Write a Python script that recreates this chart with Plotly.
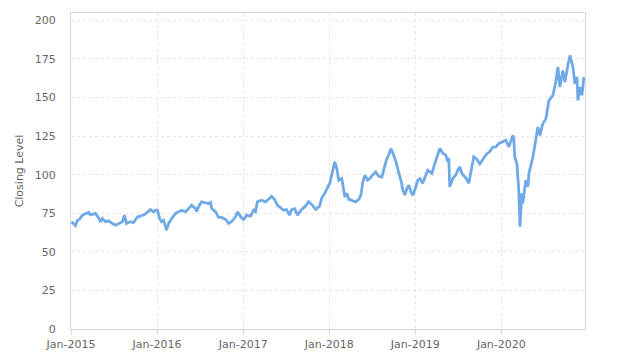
import plotly.graph_objects as go

dates_2015 = ["2015-01-03","2015-01-11","2015-01-20","2015-01-28","2015-02-06","2015-02-18","2015-03-03","2015-03-16",
              "2015-03-25","2015-04-02","2015-04-15","2015-04-27","2015-05-06","2015-05-14","2015-05-27","2015-06-09",
              "2015-06-18","2015-06-26","2015-07-09","2015-07-21","2015-08-07","2015-08-16","2015-08-24","2015-09-10",
              "2015-09-23","2015-10-02","2015-10-10","2015-10-23","2015-11-05","2015-11-13","2015-11-22","2015-12-04",
              "2015-12-17","2015-12-26"]
vals_2015 = [69.5,68.4,67.0,70.5,71.0,73.8,74.9,75.5,74.0,74.2,74.9,72.3,69.5,71.6,69.5,70.1,69.0,68.4,67.3,68.4,
             69.5,73.8,68.4,69.5,68.9,71.0,72.7,73.2,73.8,74.5,75.9,77.4,75.9,77.0]

dates_2016 = ["2016-01-03","2016-01-12","2016-01-20","2016-01-29","2016-02-10","2016-02-19","2016-03-03","2016-03-20",
              "2016-04-01","2016-04-14","2016-05-01","2016-05-14","2016-05-27","2016-06-04","2016-06-13","2016-06-17",
              "2016-06-25","2016-07-08","2016-07-25","2016-08-07","2016-08-15","2016-08-20","2016-09-06","2016-09-18",
              "2016-10-01","2016-10-18","2016-10-31","2016-11-12","2016-11-29","2016-12-08","2016-12-21"]
vals_2016 = [77.0,71.6,69.5,70.5,64.1,68.4,71.6,74.9,75.9,77.0,75.9,78.1,80.2,79.0,78.1,76.0,79.1,82.4,81.8,81.3,
             82.0,78.1,75.9,72.3,72.3,71.0,68.4,69.5,72.7,75.9,72.7]

dates_2017 = ["2017-01-02","2017-01-06","2017-01-15","2017-02-01","2017-02-14","2017-02-22","2017-03-02","2017-03-19",
              "2017-04-05","2017-04-22","2017-05-01","2017-05-14","2017-05-26","2017-06-08","2017-06-21","2017-07-03",
              "2017-07-16","2017-07-25","2017-08-07","2017-08-19","2017-09-05","2017-09-22","2017-10-05","2017-10-18",
              "2017-11-04","2017-11-21","2017-11-29","2017-12-12","2017-12-21","2017-12-29"]
vals_2017 = [71.0,71.6,73.8,73.2,77.0,76.0,82.4,83.5,82.4,84.6,86.0,83.9,80.2,78.7,77.0,77.4,73.8,77.4,78.0,73.8,
             77.4,79.6,82.4,80.9,77.4,79.6,84.6,87.8,91.0,93.0]

dates_2018 = ["2018-01-03","2018-01-12","2018-01-20","2018-01-24","2018-02-02","2018-02-10","2018-02-23","2018-03-08",
              "2018-03-16","2018-03-25","2018-04-06","2018-04-23","2018-05-06","2018-05-15","2018-05-23","2018-06-01",
              "2018-06-13","2018-06-22","2018-07-05","2018-07-17","2018-07-30","2018-08-12","2018-08-25","2018-09-02",
              "2018-09-11","2018-09-19","2018-09-28","2018-10-11","2018-10-23","2018-11-01","2018-11-09","2018-11-18",
              "2018-11-26","2018-12-05","2018-12-13","2018-12-22"]
vals_2018 = [94.3,100.7,107.2,108.3,104.0,96.4,97.5,85.6,88.0,84.0,83.4,82.4,84.0,86.7,95.0,99.6,96.5,97.5,100.0,101.8,
             99.0,98.5,106.0,110.4,113.0,116.9,114.0,108.3,101.0,96.4,90.0,86.7,91.0,93.2,89.0,86.7]

dates_2019 = ["2019-01-03","2019-01-11","2019-01-20","2019-02-01","2019-02-10","2019-02-23","2019-03-12","2019-03-28",
              "2019-04-06","2019-04-15","2019-04-27","2019-05-10","2019-05-19","2019-05-23","2019-05-27","2019-06-09",
              "2019-06-22","2019-06-30","2019-07-09","2019-07-17","2019-08-03","2019-08-16","2019-08-29","2019-09-06",
              "2019-09-19","2019-10-02","2019-10-19","2019-11-01","2019-11-13","2019-11-26","2019-12-09","2019-12-21"]
vals_2019 = [92.0,96.4,97.5,94.5,98.0,102.9,100.9,109.4,113.0,117.0,114.0,112.7,108.3,111.0,92.1,97.5,100.0,102.9,
             105.0,100.9,98.0,94.5,105.0,111.6,110.0,107.0,111.0,113.6,115.0,117.9,118.0,120.2]

dates_2020 = ["2020-01-03","2020-01-07","2020-01-20","2020-02-02","2020-02-10","2020-02-19","2020-02-23","2020-02-27",
              "2020-03-07","2020-03-11","2020-03-15","2020-03-20","2020-03-24","2020-03-28","2020-04-01","2020-04-14",
              "2020-04-23","2020-04-27","2020-05-14","2020-05-27","2020-06-04","2020-06-13","2020-06-25","2020-07-08",
              "2020-07-21","2020-08-07","2020-08-19","2020-08-28","2020-09-05","2020-09-18","2020-09-27","2020-10-09",
              "2020-10-18","2020-10-31","2020-11-08","2020-11-17","2020-11-21","2020-11-30","2020-12-08","2020-12-16"]
vals_2020 = [121.0,121.3,122.4,118.0,122.0,125.5,123.4,111.5,107.2,100.8,90.0,66.3,79.2,87.9,81.4,96.5,92.2,100.8,
             111.5,122.3,131.0,125.5,133.0,136.3,148.2,151.4,160.0,169.8,156.8,167.6,160.0,170.8,177.3,169.8,158.9,
             163.3,148.2,156.8,151.4,163.3]

dates = dates_2015 + dates_2016 + dates_2017 + dates_2018 + dates_2019 + dates_2020
closing = vals_2015 + vals_2016 + vals_2017 + vals_2018 + vals_2019 + vals_2020

x_ticks = ["2015-01-01", "2016-01-01", "2017-01-01", "2018-01-01", "2019-01-01", "2020-01-01"]
x_tick_labels = ["Jan-2015", "Jan-2016", "Jan-2017", "Jan-2018", "Jan-2019", "Jan-2020"]
y_ticks = [0, 25, 50, 75, 100, 125, 150, 175, 200]

fig = go.Figure()
fig.add_trace(go.Scatter(x=dates, y=closing, mode="lines",
                         line=dict(color="#6fa9e8", width=2.8), showlegend=False))

font = dict(family="DejaVu Sans", size=11, color="#666666")
fig.update_layout(
    width=624, height=363,
    margin=dict(l=71, r=39, t=12.5, b=34, pad=0),
    paper_bgcolor="white", plot_bgcolor="white",
    font=font,
)
fig.update_xaxes(
    type="date", range=["2015-01-01", "2020-12-21"],
    tickvals=x_ticks, ticktext=x_tick_labels,
    showgrid=True, gridcolor="#e6e6e6", griddash="dot", gridwidth=1,
    showline=True, linecolor="#d3d8e0", linewidth=1, mirror=True,
    ticks="outside", ticklen=5, tickcolor="#d3d8e0",
    tickfont=font, zeroline=False,
)
fig.update_yaxes(
    range=[0, 204.8], tickvals=y_ticks,
    showgrid=True, gridcolor="#e6e6e6", griddash="dot", gridwidth=1,
    showline=True, linecolor="#d3d8e0", linewidth=1, mirror=True,
    ticks="", ticklabelstandoff=12,
    tickfont=font, zeroline=False,
    title=dict(text="Closing Level", font=font, standoff=8),
)
fig.write_html("out.html")
